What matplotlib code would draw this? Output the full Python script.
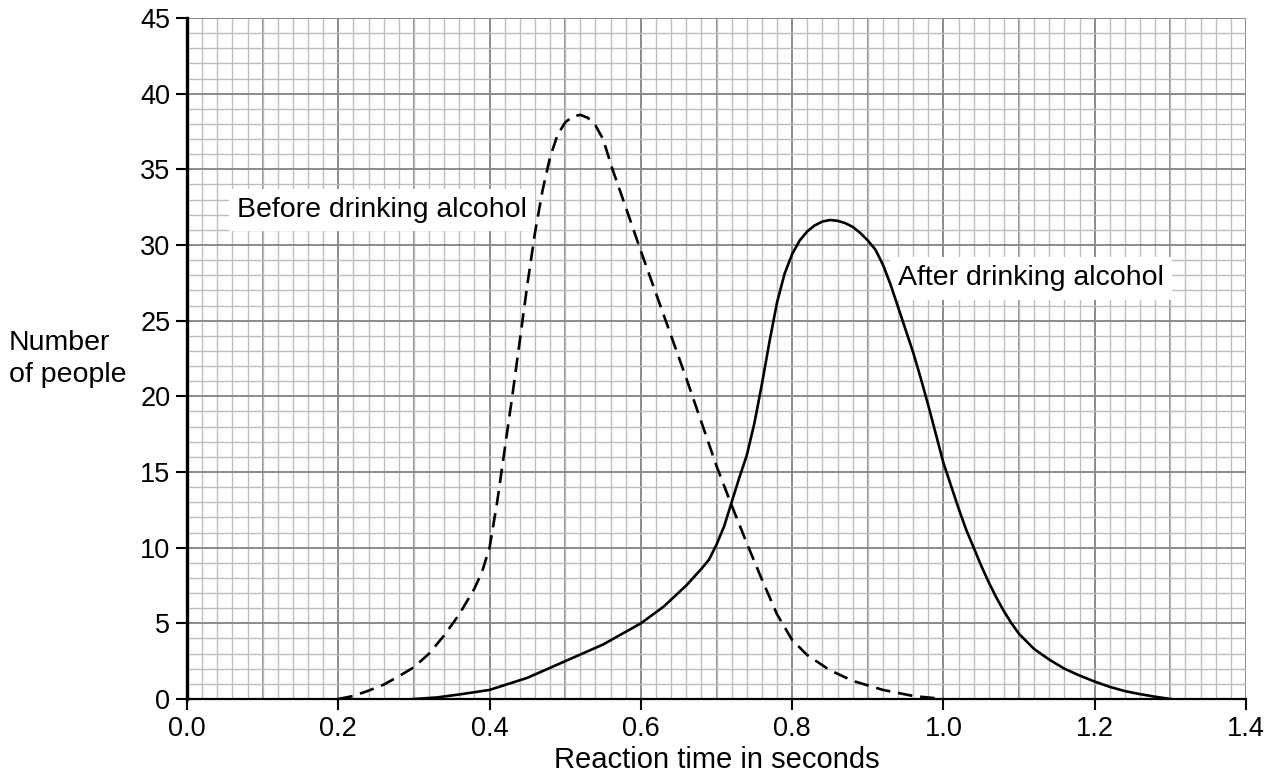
import matplotlib
matplotlib.use("Agg")
import matplotlib.pyplot as plt
from matplotlib.ticker import MultipleLocator

plt.rcParams['font.family'] = ['Liberation Sans', 'DejaVu Sans']

# Before drinking alcohol (dashed)
before_x = [0.20, 0.22, 0.24, 0.26, 0.28, 0.30, 0.32, 0.34, 0.36, 0.38, 0.39, 0.40,
            0.41, 0.42, 0.43, 0.44, 0.45, 0.46, 0.47, 0.48, 0.49, 0.50, 0.51, 0.52,
            0.53, 0.54, 0.55, 0.5625, 0.58, 0.60, 0.62, 0.64, 0.66, 0.68, 0.70,
            0.72, 0.74, 0.76, 0.78, 0.80, 0.82, 0.85, 0.88, 0.92, 0.96, 1.00]
before_y = [0, 0.2, 0.55, 0.95, 1.5, 2.1, 3.0, 4.2, 5.6, 7.3, 8.4, 10.0,
            13.0, 16.5, 20.0, 23.7, 27.4, 30.8, 33.6, 35.8, 37.3, 38.1, 38.5, 38.6,
            38.4, 37.9, 37.0, 35.0, 32.5, 29.6, 26.8, 24.0, 21.2, 18.3, 15.4,
            12.8, 10.3, 7.9, 5.6, 3.9, 2.9, 1.9, 1.2, 0.6, 0.2, 0]

# After drinking alcohol (solid)
after_x = [0.30, 0.33, 0.36, 0.40, 0.45, 0.50, 0.55, 0.60, 0.63, 0.66, 0.68, 0.69,
           0.70, 0.71, 0.72, 0.73, 0.74, 0.75, 0.76, 0.77, 0.78, 0.79, 0.80, 0.81,
           0.82, 0.83, 0.84, 0.85, 0.86, 0.87, 0.88, 0.89, 0.90, 0.91, 0.92, 0.93,
           0.94, 0.95, 0.96, 0.97, 0.98, 0.99, 1.00, 1.01, 1.02, 1.03, 1.04, 1.05,
           1.06, 1.07, 1.08, 1.09, 1.10, 1.12, 1.14, 1.16, 1.18, 1.20, 1.22, 1.24,
           1.26, 1.28, 1.30]
after_y = [0, 0.1, 0.3, 0.6, 1.4, 2.5, 3.6, 5.0, 6.1, 7.5, 8.6, 9.2,
           10.2, 11.4, 13.0, 14.6, 16.1, 18.2, 20.8, 23.6, 26.2, 28.1, 29.4, 30.3,
           30.9, 31.3, 31.55, 31.65, 31.6, 31.45, 31.2, 30.8, 30.3, 29.7, 28.7, 27.4,
           25.9, 24.4, 22.9, 21.2, 19.4, 17.5, 15.6, 14.1, 12.6, 11.2, 10.0, 8.8,
           7.7, 6.7, 5.8, 5.0, 4.3, 3.3, 2.6, 2.0, 1.55, 1.15, 0.8, 0.52,
           0.32, 0.15, 0]

x_ticks = [0.0, 0.2, 0.4, 0.6, 0.8, 1.0, 1.2, 1.4]
x_tick_labels = ["0.0", "0.2", "0.4", "0.6", "0.8", "1.0", "1.2", "1.4"]
y_ticks = [0, 5, 10, 15, 20, 25, 30, 35, 40, 45]

fig = plt.figure(figsize=(12.77, 7.76), dpi=100)
ax = fig.add_axes([187/1277, 77/776, (1246-187)/1277, (699-18)/776])
ax.set_xlim(0, 1.4)
ax.set_ylim(0, 45)

ax.set_xticks(x_ticks)
ax.set_xticklabels(x_tick_labels)
ax.set_yticks(y_ticks)
ax.xaxis.set_minor_locator(MultipleLocator(0.02))
ax.yaxis.set_minor_locator(MultipleLocator(1))
ax.grid(which='minor', color='#bdbdbd', linewidth=1.0)
ax.grid(which='major', color='#8a8a8a', linewidth=1.4)
ax.set_axisbelow(True)
for xv in [0.1, 0.3, 0.5, 0.7, 0.9, 1.1, 1.3]:
    ax.axvline(xv, color='#8a8a8a', linewidth=1.4, zorder=0.5)

ax.tick_params(axis='both', which='major', labelsize=19.5, length=8, width=1.5,
               direction='out', colors='black', pad=4)
ax.tick_params(axis='both', which='minor', length=0)

for s in ['top', 'right']:
    ax.spines[s].set_visible(False)
ax.spines['left'].set_linewidth(2.4)
ax.spines['bottom'].set_linewidth(1.6)

ax.plot(before_x, before_y, color='black', linewidth=1.9, dashes=(5.5, 3.0),
        solid_joinstyle='round', dash_joinstyle='round', zorder=5)
ax.plot(after_x, after_y, color='black', linewidth=1.9, solid_joinstyle='round',
        zorder=5)

ax.text(0.066, 32.3, "Before drinking alcohol", fontsize=20.5, va='center', ha='left',
        bbox=dict(facecolor='white', edgecolor='none', pad=6), zorder=3)
ax.text(0.94, 27.8, "After drinking alcohol", fontsize=20.5, va='center', ha='left',
        bbox=dict(facecolor='white', edgecolor='none', pad=6), zorder=3)

ax.set_xlabel("Reaction time in seconds", fontsize=21, labelpad=3)
fig.text(9/1277, 1 - 359/776, "Number\nof people", fontsize=20.5, ha='left',
         va='center', linespacing=1.28)

fig.savefig("out.png", dpi=100)
